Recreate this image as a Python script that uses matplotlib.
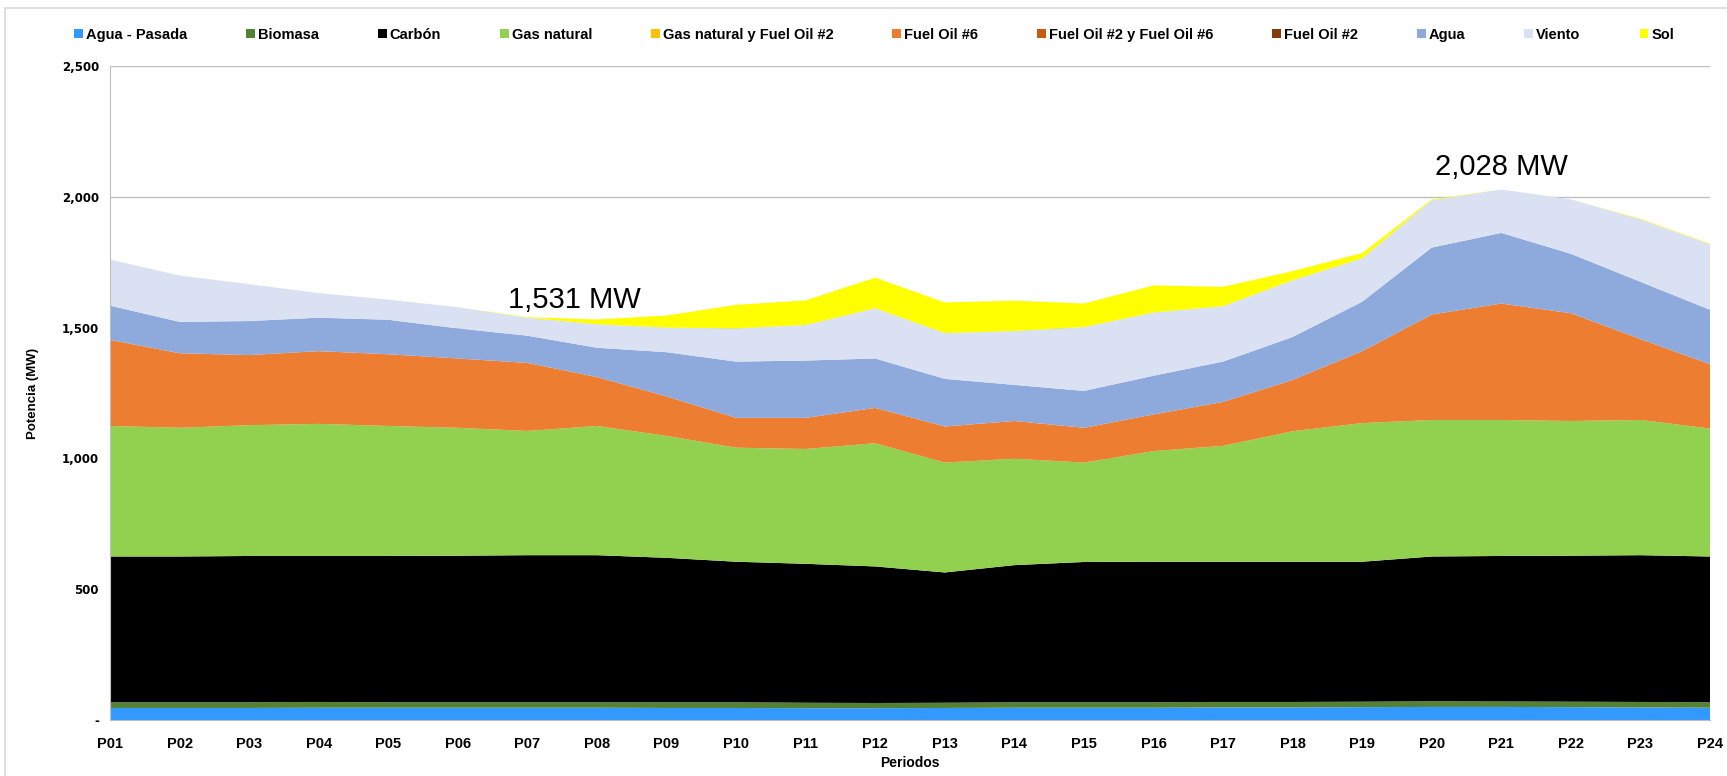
import numpy as np
import matplotlib.pyplot as plt
from matplotlib import font_manager as fm
from matplotlib.ticker import FuncFormatter
from matplotlib.patches import Rectangle

periodos = ['P%02d' % i for i in range(1, 25)]

agua_pasada = [46, 46, 46, 47, 47, 47, 47, 47, 46, 46, 45, 45, 46, 47, 47, 47, 48, 48, 49, 50, 50, 49, 48, 47]
biomasa = [22, 22, 22, 22, 21, 21, 21, 21, 22, 22, 21, 20, 20, 21, 21, 21, 21, 21, 21, 22, 21, 21, 21, 21]
carbon = [557, 557, 559, 558, 559, 560, 562, 562, 552, 537, 531, 522, 498, 524, 536, 537, 536, 536, 535, 553, 556, 558, 561, 557]
gas_natural = [499, 492, 500, 505, 497, 489, 475, 494, 466, 436, 439, 471, 420, 407, 380, 423, 443, 499, 530, 522, 520, 515, 517, 489]
gas_fo2 = [0] * 24
fuel_oil_6 = [329, 285, 268, 278, 274, 265, 260, 187, 151, 114, 119, 135, 138, 144, 133, 140, 168, 196, 275, 403, 445, 412, 309, 246]
fo2_fo6 = [0] * 24
fuel_oil_2 = [0] * 24
agua = [131, 120, 130, 128, 132, 115, 104, 112, 169, 215, 219, 189, 182, 138, 141, 148, 154, 164, 189, 256, 270, 227, 219, 208]
viento = [176, 177, 141, 94, 77, 81, 69, 90, 94, 127, 136, 192, 175, 206, 244, 242, 212, 217, 166, 181, 166, 208, 239, 251]
sol = [0, 0, 0, 0, 0, 0, 2, 18, 46, 90, 94, 117, 117, 116, 90, 103, 74, 35, 20, 3, 0, 0, 2, 2]

nombres = ['Agua - Pasada', 'Biomasa', 'Carbón', 'Gas natural', 'Gas natural y Fuel Oil #2',
           'Fuel Oil #6', 'Fuel Oil #2 y Fuel Oil #6', 'Fuel Oil #2', 'Agua', 'Viento', 'Sol']
colores = ['#3399FF', '#548235', '#000000', '#92D050', '#FFC000',
           '#ED7D31', '#C55A11', '#843C0C', '#8EA9DB', '#D9E1F2', '#FFFF00']

names = {f.name for f in fm.fontManager.ttflist}
narrow = 'Liberation Sans Narrow' if 'Liberation Sans Narrow' in names else 'Liberation Sans'

series = [agua_pasada, biomasa, carbon, gas_natural, gas_fo2, fuel_oil_6,
          fo2_fo6, fuel_oil_2, agua, viento, sol]
x = np.arange(len(periodos))
total = np.sum(series, axis=0)

fig = plt.figure(figsize=(17.27, 7.76), dpi=100)
ax = fig.add_axes([110 / 1727, 56 / 776, 1600 / 1727, 654 / 776])

ax.stackplot(x, *series, colors=colores, labels=nombres, linewidth=0, zorder=2)

ax.set_xlim(0, 23)
ax.set_ylim(0, 2500)
ax.set_yticks(np.arange(0, 2501, 500))
ax.yaxis.set_major_formatter(FuncFormatter(lambda v, p: '-' if v == 0 else f'{v:,.0f}'))
ax.set_xticks(x)
ax.set_xticklabels(periodos)
ax.grid(axis='y', color='#BFBFBF', lw=1, zorder=0)
ax.set_axisbelow(True)
ax.tick_params(axis='both', length=0)
ax.tick_params(axis='y', pad=8, labelsize=8.5)
ax.tick_params(axis='x', pad=12, labelsize=10.5)
for t in ax.get_yticklabels():
    t.set_fontweight('bold')
    t.set_family('DejaVu Sans')
for t in ax.get_xticklabels():
    t.set_fontweight('bold')
    t.set_family(narrow)

for s in ['top', 'right']:
    ax.spines[s].set_visible(False)
for s in ['left', 'bottom']:
    ax.spines[s].set_color('#BFBFBF')

ax.set_ylabel('Potencia (MW)', fontsize=9.5, fontweight='bold', family=narrow, labelpad=16)
ax.set_xlabel('Periodos', fontsize=10, fontweight='bold', family=narrow, labelpad=4)

# etiquetas de minimo y maximo
i_min = int(np.argmin(total))
i_max = int(np.argmax(total))
ax.text(i_min - 0.32, total[i_min] + 75, f'{total[i_min]:,.0f} MW', fontsize=21,
        family=narrow, ha='center', va='center')
ax.text(i_max, total[i_max] + 86, f'{total[i_max]:,.0f} MW', fontsize=21,
        family=narrow, ha='center', va='center')

fig.legend(loc='center', bbox_to_anchor=(874 / 1727, 1 - 35 / 776), ncol=11, frameon=False,
           prop={'family': narrow, 'weight': 'bold', 'size': 10.5},
           handlelength=0.6, handleheight=0.6, handletextpad=0.2, columnspacing=4.05)

fig.patches.append(Rectangle((5 / 1727, -0.01), 1.0, 1 - 8 / 776 + 0.01, transform=fig.transFigure,
                             fill=False, edgecolor='#D9D9D9', lw=1.2))

fig.savefig('out.png', dpi=100)
